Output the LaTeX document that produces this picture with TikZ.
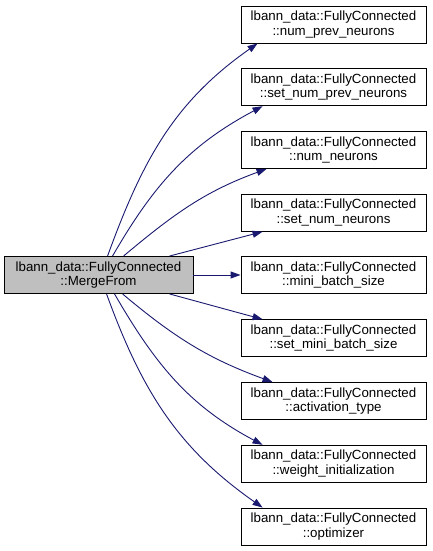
\documentclass[tikz,border=0pt]{standalone}
\usepackage{fontspec}
\setmainfont{Liberation Sans}
\usetikzlibrary{arrows.meta}
\definecolor{edgeblue}{HTML}{191970}
\definecolor{nodegray}{HTML}{BFBFBF}
\begin{document}
\begin{tikzpicture}[x=1pt,y=1pt,
  fn/.style={draw, line width=0.9pt, minimum width=185pt, minimum height=37pt,
    inner sep=0pt, align=center, font=\fontsize{13.3}{14.5}\selectfont},
  call/.style={draw=edgeblue, line width=0.9pt, edgeblue,
    -{Triangle[length=10pt,width=7pt]}}]
\useasboundingbox (0,0) rectangle (433,551);

% caller
\node[fn, fill=nodegray, minimum width=189pt] (merge) at (98.5,276)
  {lbann\_data::FullyConnected\\::MergeFrom};

% callees
\node[fn] (f1) at (333.5,526.5) {lbann\_data::FullyConnected\\::num\_prev\_neurons};
\node[fn] (f2) at (333.5,463.75) {lbann\_data::FullyConnected\\::set\_num\_prev\_neurons};
\node[fn] (f3) at (333.5,401) {lbann\_data::FullyConnected\\::num\_neurons};
\node[fn] (f4) at (333.5,338.25) {lbann\_data::FullyConnected\\::set\_num\_neurons};
\node[fn] (f5) at (333.5,276) {lbann\_data::FullyConnected\\::mini\_batch\_size};
\node[fn] (f6) at (333.5,212.75) {lbann\_data::FullyConnected\\::set\_mini\_batch\_size};
\node[fn] (f7) at (333.5,150) {lbann\_data::FullyConnected\\::activation\_type};
\node[fn] (f8) at (333.5,87.25) {lbann\_data::FullyConnected\\::weight\_initialization};
\node[fn] (f9) at (333.5,24.5) {lbann\_data::FullyConnected\\::optimizer};

% calls
\draw[call] ([xshift=104pt]merge.north west) to[out=70,in=215] ([xshift=17pt]f1.south west);
\draw[call] ([xshift=109pt]merge.north west) to[out=60,in=208] ([xshift=22pt]f2.south west);
\draw[call] ([xshift=120pt]merge.north west) to[out=40,in=200] ([xshift=26pt]f3.south west);
\draw[call] ([xshift=166pt]merge.north west) -- ([xshift=22pt]f4.south west);
\draw[call] (merge.east) -- (f5.west);
\draw[call] ([xshift=166pt]merge.south west) -- ([xshift=22pt]f6.north west);
\draw[call] ([xshift=119pt]merge.south west) to[out=-40,in=160] ([xshift=32pt]f7.north west);
\draw[call] ([xshift=111pt]merge.south west) to[out=-60,in=152] ([xshift=22pt]f8.north west);
\draw[call] ([xshift=103pt]merge.south west) to[out=-70,in=145] ([xshift=22pt]f9.north west);
\end{tikzpicture}
\end{document}
